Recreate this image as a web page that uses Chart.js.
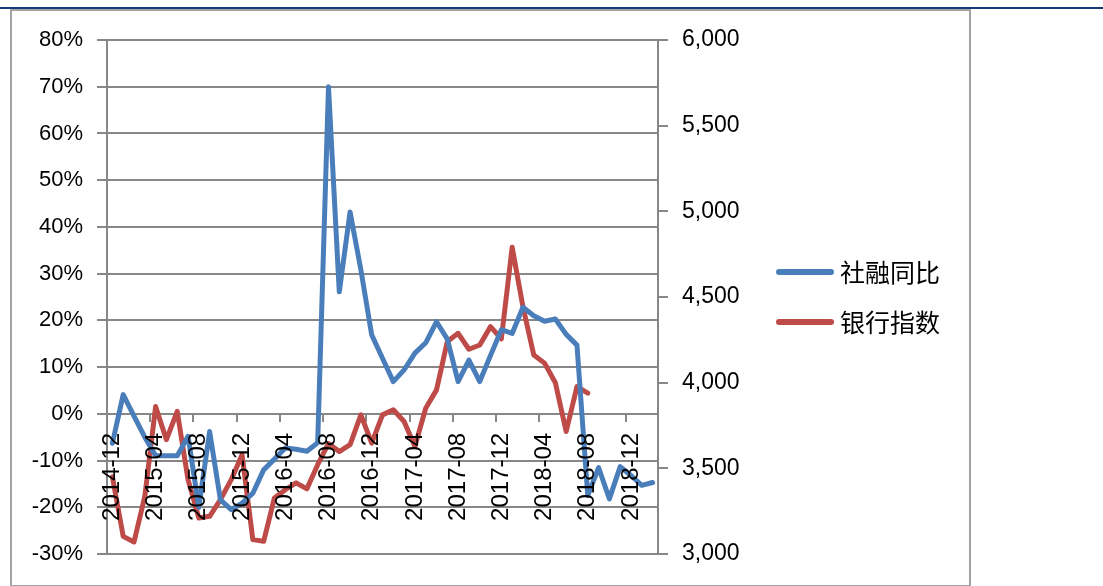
<!DOCTYPE html>
<html>
<head>
<meta charset="utf-8">
<script src="https://cdn.jsdelivr.net/npm/chart.js@4/dist/chart.umd.min.js"></script>
<style>
  html, body { margin: 0; padding: 0; background: #ffffff; }
  #wrap { position: relative; width: 1103px; height: 586px; overflow: hidden; }
  #topRule { position: absolute; left: 0; top: 7px; width: 1103px; height: 2px; background: #163b78; }
  #frame { position: absolute; left: 10px; top: 9px; width: 961px; height: 578px; box-sizing: border-box; border: 2px solid #a3a3a3; }
  #chart { position: absolute; left: 0; top: 0; }
</style>
</head>
<body>
<div id="wrap">
  <div id="topRule"></div>
  <div id="frame"></div>
  <canvas id="chart" width="1103" height="586"></canvas>
</div>
<script>
// Monthly categories
const months = [
  '2014-12',
  '2015-01','2015-02','2015-03','2015-04','2015-05','2015-06','2015-07','2015-08','2015-09','2015-10','2015-11','2015-12',
  '2016-01','2016-02','2016-03','2016-04','2016-05','2016-06','2016-07','2016-08','2016-09','2016-10','2016-11','2016-12',
  '2017-01','2017-02','2017-03','2017-04','2017-05','2017-06','2017-07','2017-08','2017-09','2017-10','2017-11','2017-12',
  '2018-01','2018-02','2018-03','2018-04','2018-05','2018-06','2018-07','2018-08','2018-09','2018-10','2018-11','2018-12',
  '2019-01','2019-02'
];

// 社融同比 (%), left axis
const socialFinancingYoY = [
  -6.3,
  4.1, -0.5, -5.0, -9.0, -9.0, -9.0, -4.8, -20.0, -3.8, -18.4, -20.5, -19.1,
  -17.0, -12.0, -9.7, -7.3, -7.6, -8.0, -6.2, 70.0, 26.1, 43.2, 30.8, 16.9,
  11.9, 6.9, 9.4, 13.0, 15.2, 19.7, 16.0, 6.9, 11.5, 6.9, 12.5, 18.0,
  17.2, 22.8, 21.0, 19.8, 20.3, 17.0, 14.7, -17.5, -11.5, -18.2, -11.3, -13.2,
  -15.3, -14.7
];

// 银行指数, right axis
const bankIndex = [
  3450,
  3103, 3070, 3336, 3861, 3667, 3832, 3434, 3210, 3220, 3317, 3434, 3579,
  3084, 3074, 3327, 3375, 3415, 3380, 3521, 3645, 3598, 3638, 3812, 3647,
  3812, 3842, 3773, 3628, 3851, 3958, 4240, 4288, 4195, 4220, 4327, 4255,
  4790, 4443, 4162, 4114, 4000, 3715, 3977, 3939
];

const seriesNames = ['社融同比', '银行指数'];
const seriesColors = ['#4a7ebb', '#be4b48'];

const leftTicks = { min: -30, max: 80, step: 10 };
const rightTicks = { min: 3000, max: 6000, step: 500 };

const axisGray = '#878787';

// Legend drawn to the right of the plot
const sideLegend = {
  id: 'sideLegend',
  afterDraw(chart) {
    const ctx = chart.ctx;
    ctx.save();
    chart.data.datasets.forEach((ds, i) => {
      const y = 272 + i * 50;
      ctx.strokeStyle = ds.borderColor;
      ctx.lineWidth = 6;
      ctx.lineCap = 'round';
      ctx.beginPath();
      ctx.moveTo(779, y);
      ctx.lineTo(831, y);
      ctx.stroke();
      ctx.fillStyle = '#000000';
      ctx.font = '25px "Noto Sans CJK SC"';
      ctx.textAlign = 'left';
      ctx.textBaseline = 'middle';
      ctx.fillText(ds.label, 840, y);
    });
    ctx.restore();
  }
};

new Chart(document.getElementById('chart'), {
  type: 'line',
  data: {
    labels: months,
    datasets: [
      {
        label: seriesNames[0],
        data: socialFinancingYoY,
        yAxisID: 'y',
        borderColor: seriesColors[0],
        backgroundColor: seriesColors[0],
        borderWidth: 5,
        pointRadius: 0,
        tension: 0,
        borderJoinStyle: 'round',
        borderCapStyle: 'round'
      },
      {
        label: seriesNames[1],
        data: bankIndex,
        yAxisID: 'y1',
        borderColor: seriesColors[1],
        backgroundColor: seriesColors[1],
        borderWidth: 5,
        pointRadius: 0,
        tension: 0,
        borderJoinStyle: 'round',
        borderCapStyle: 'round'
      }
    ]
  },
  options: {
    responsive: false,
    animation: false,
    layout: { padding: { left: 0, right: 325, top: 40, bottom: 32 } },
    plugins: { legend: { display: false }, tooltip: { enabled: false } },
    scales: {
      x: {
        type: 'category',
        position: { y: 0 },
        offset: true,
        grid: {
          display: true,
          offset: true,
          drawOnChartArea: false,
          drawTicks: true,
          tickLength: 8,
          lineWidth: 2,
          color: (c) => (c.index % 4 === 0 && c.index <= 48) ? axisGray : 'rgba(0,0,0,0)',
          tickColor: (c) => (c.index % 4 === 0 && c.index <= 48) ? axisGray : 'rgba(0,0,0,0)'
        },
        border: { display: false },
        ticks: {
          autoSkip: false,
          minRotation: 90,
          maxRotation: 90,
          padding: 11,
          z: 1,
          color: '#000000',
          font: { family: 'Liberation Sans', size: 24 },
          callback: function (val, index) {
            return index % 4 === 0 ? this.getLabelForValue(val) : '';
          }
        }
      },
      y: {
        position: 'left',
        min: leftTicks.min,
        max: leftTicks.max,
        afterFit: (s) => { s.width = 107; },
        grid: { color: axisGray, lineWidth: 2, tickLength: 10, drawTicks: true },
        border: { color: axisGray, width: 2 },
        ticks: {
          stepSize: leftTicks.step,
          padding: 14,
          color: '#000000',
          font: { family: 'Liberation Sans', size: 22 },
          callback: (v) => v + '%'
        }
      },
      y1: {
        position: 'right',
        min: rightTicks.min,
        max: rightTicks.max,
        afterFit: (s) => { s.width = 120; },
        grid: { drawOnChartArea: false, color: axisGray, lineWidth: 2, tickLength: 10, drawTicks: true },
        border: { color: axisGray, width: 2 },
        ticks: {
          stepSize: rightTicks.step,
          padding: 14,
          color: '#000000',
          font: { family: 'Liberation Sans', size: 23 },
          callback: (v) => v.toLocaleString('en-US')
        }
      }
    }
  },
  plugins: [sideLegend]
});
</script>
</body>
</html>
